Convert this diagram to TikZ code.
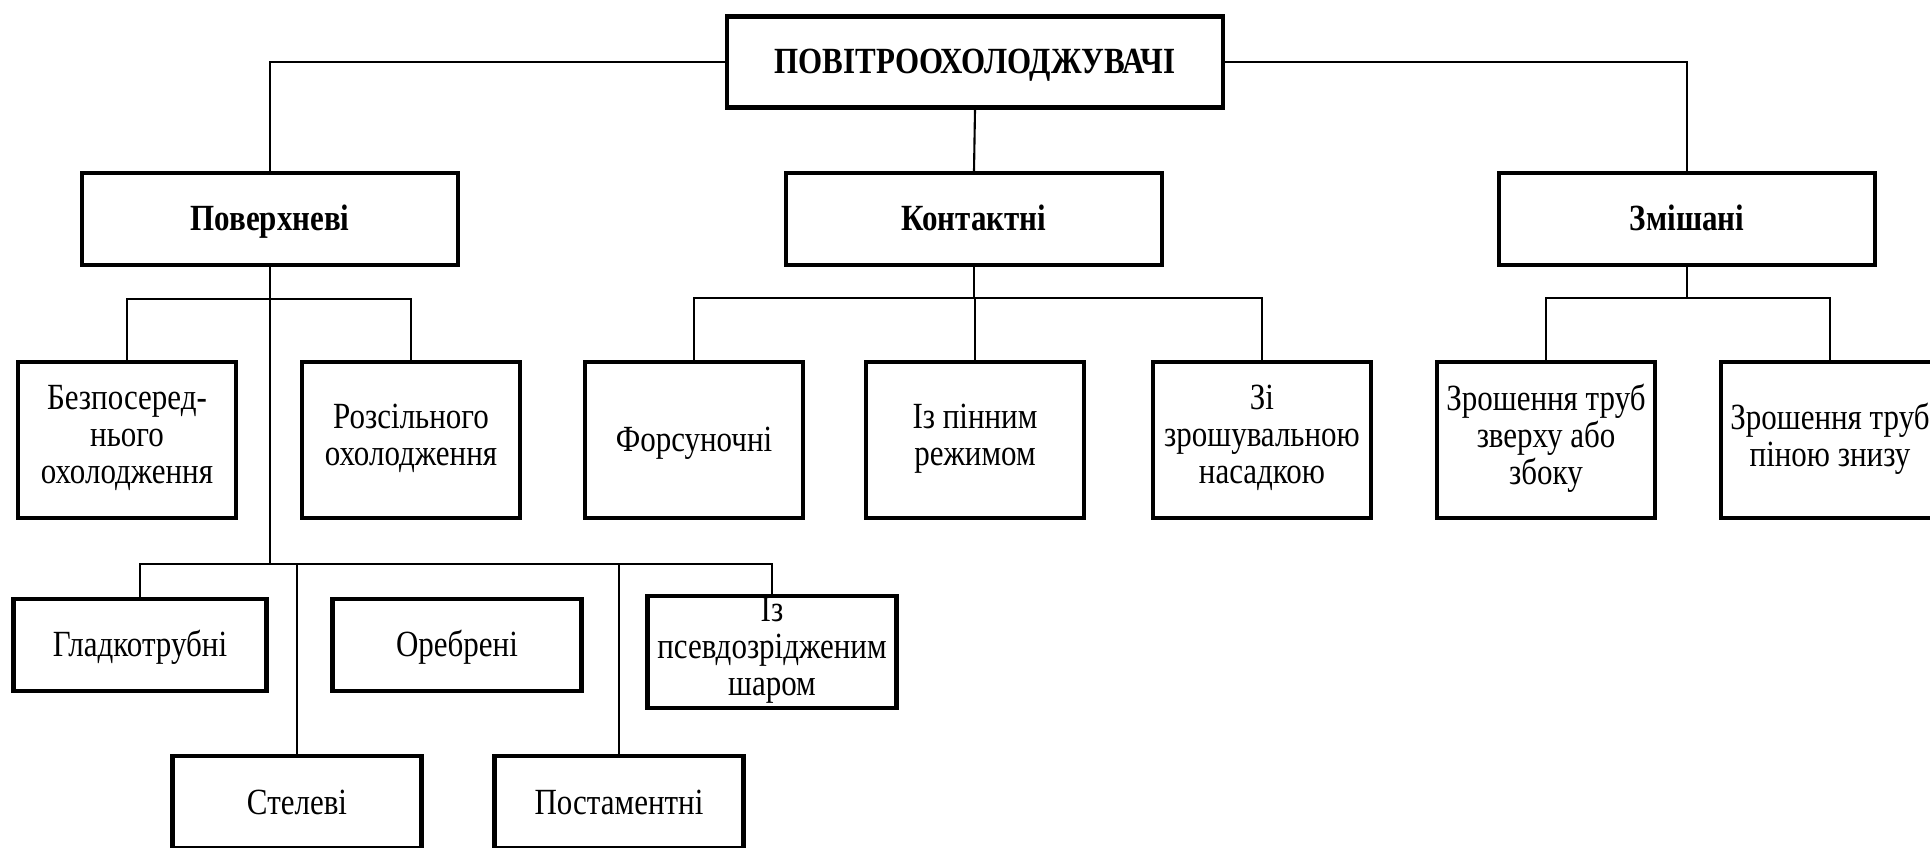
\documentclass[tikz,border=0pt]{standalone}
\usepackage{fontspec}
\setmainfont{Liberation Serif}[FakeStretch=0.84]
\usetikzlibrary{positioning}

\tikzset{
    box/.style={draw, rectangle, line width=2.4pt, align=center, inner sep=1pt,
        font=\fontsize{21}{21}\selectfont,
        execute at begin node={\rule{0pt}{0.95em}}, execute at end node=\strut},
    headbox/.style={box, minimum width=7.52cm, minimum height=1.84cm,
        font=\fontsize{21}{21}\selectfont\bfseries},
    kindbox/.style={box, minimum width=4.36cm, minimum height=3.12cm},
    typebox/.style={box, minimum width=4.98cm, minimum height=1.84cm},
    link/.style={line width=1.2pt}
}

\begin{document}
\begin{tikzpicture}[x=0.02cm, y=-0.02cm]
    \path[use as bounding box, clip] (0,0) rectangle (1930,848);

    % root
    \node[box, minimum width=9.92cm, minimum height=1.82cm, font=\fontsize{21}{21}\selectfont\bfseries] (root) at (975,62) {ПОВІТРООХОЛОДЖУВАЧІ};

    % main groups
    \node[headbox] (surf) at (270,219) {Поверхневі};
    \node[headbox] (cont) at (974,219) {Контактні};
    \node[headbox] (mix) at (1687,219) {Змішані};

    % second level
    \node[kindbox] (direct) at (127,440) {Безпосеред-\\нього\\охолодження};
    \node[kindbox] (brine) at (411,440) {Розсільного\\охолодження};
    \node[kindbox] (nozzle) at (694,440) {Форсуночні};
    \node[kindbox] (foam) at (975,440) {Із пінним\\режимом};
    \node[kindbox] (irrig) at (1262,440) {Зі\\зрошувальною\\насадкою};
    \node[kindbox] (topirr) at (1546,440) {Зрошення труб\\зверху або\\збоку};
    \node[kindbox] (lowirr) at (1830,440) {Зрошення труб\\піною знизу};

    % surface coolers by design
    \node[typebox, minimum width=5.06cm] (smooth) at (140,645) {Гладкотрубні};
    \node[typebox] (finned) at (457,645) {Оребрені};
    \node[typebox, minimum height=2.14cm] (fluid) at (772,652) {Із\\псевдозрідженим\\шаром};
    \node[typebox] (ceiling) at (297,802) {Стелеві};
    \node[typebox] (pedestal) at (619,802) {Постаментні};

    % links
    \draw[link] (root.west) -| (surf.north);
    \draw[link] (root.east) -| (mix.north);
    \draw[link] (root.south) -- (cont.north);

    \foreach \k in {direct,brine} {
        \draw[link] (surf.south) -- ++(0,32) -| (\k.north);
    }
    \foreach \k in {nozzle,foam,irrig} {
        \draw[link] (cont.south) -- ++(0,31) -| (\k.north);
    }
    \foreach \k in {topirr,lowirr} {
        \draw[link] (mix.south) -- ++(0,31) -| (\k.north);
    }
    \foreach \k in {smooth,ceiling,pedestal,fluid} {
        \draw[link] (surf.south) -- ++(0,297) -| (\k.north);
    }
\end{tikzpicture}
\end{document}
